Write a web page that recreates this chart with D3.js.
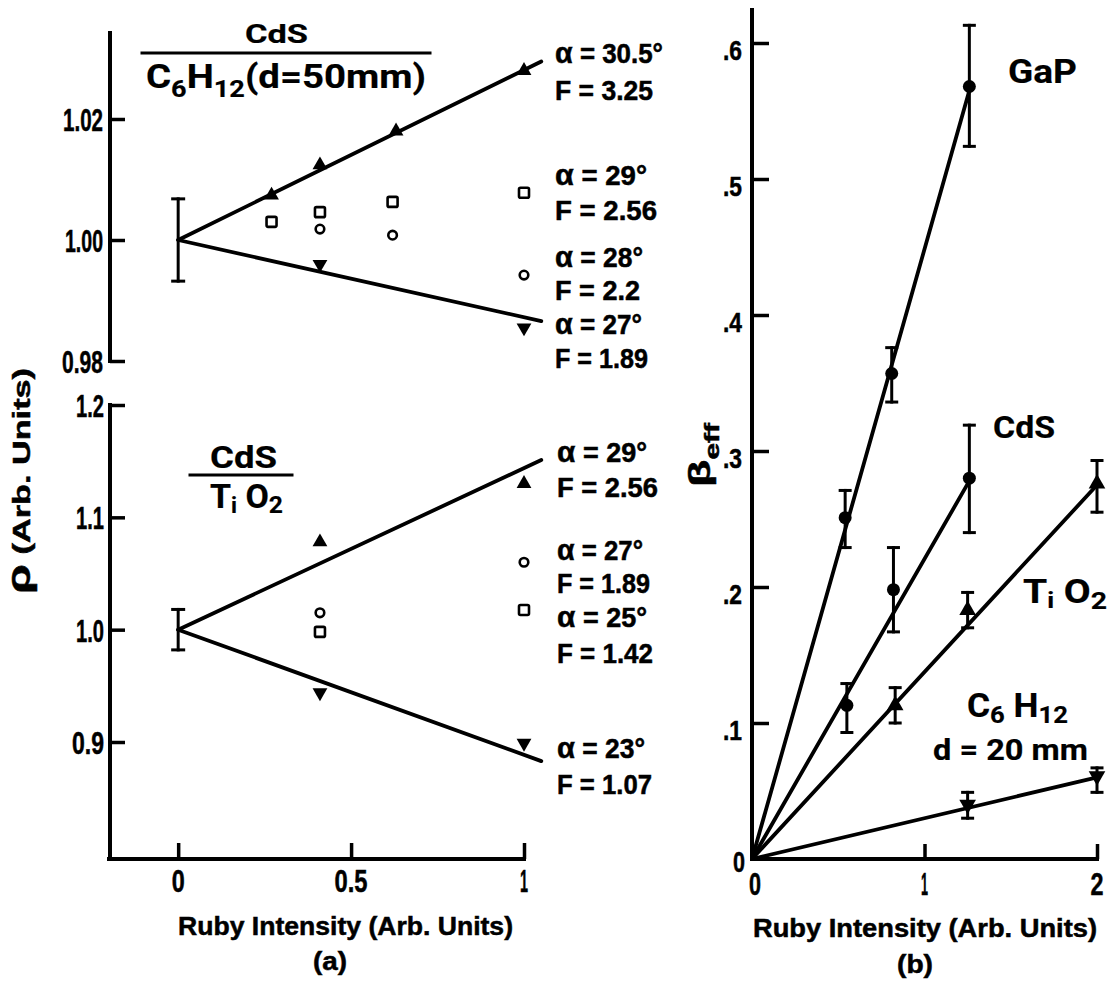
<!DOCTYPE html>
<html><head><meta charset="utf-8">
<script src="https://cdn.jsdelivr.net/npm/d3@7"></script>
<style>
html,body{margin:0;padding:0;background:#fff;}
svg{display:block;}
text{font-family:"Liberation Sans",Arial,sans-serif;font-weight:bold;fill:#000;stroke:#000;stroke-width:0.5;}
text.round{font-family:Roboto,"DejaVu Sans",sans-serif;font-weight:700;stroke-width:0.2;}
</style></head><body>
<svg id="c" width="1111" height="995"></svg>
<script>
// ---------- Panel (a), upper: CdS / C6H12 (d = 50 mm)
const aTopTriX = [0.27, 0.41, 0.63, 1.0];
const aTopTriY = [1.0074, 1.0124, 1.018, 1.028];
const aTopSqX = [0.27, 0.41, 0.62, 1.0];
const aTopSqY = [1.003, 1.0046, 1.0063, 1.0078];
const aTopCircX = [0.41, 0.62, 1.0];
const aTopCircY = [1.0018, 1.0008, 0.9942];
const aTopInvX = [0.41, 1.0];
const aTopInvY = [0.996, 0.9855];
const aTopErrX = [0], aTopErrY = [1.0], aTopErrLo = [0.9932], aTopErrHi = [1.0068];
const aTopFitX = [0, 1.05];
const aTopFitUp = [1.0, 1.0295];
const aTopFitDown = [1.0, 0.9866];
const aTopTicks = [0.98, 1.00, 1.02];
const aTopTickLabels = ["0.98", "1.00", "1.02"];
const aTopNotes = ["α = 30.5°", "F = 3.25", "α = 29°", "F = 2.56", "α = 28°", "F = 2.2", "α = 27°", "F = 1.89"];

// ---------- Panel (a), lower: CdS / TiO2
const aBotTriX = [0.41, 1.0];
const aBotTriY = [1.078, 1.13];
const aBotCircX = [0.41, 1.0];
const aBotCircY = [1.015, 1.06];
const aBotSqX = [0.41, 1.0];
const aBotSqY = [0.998, 1.0175];
const aBotInvX = [0.41, 1.0];
const aBotInvY = [0.944, 0.899];
const aBotErrX = [0], aBotErrY = [1.0], aBotErrLo = [0.982], aBotErrHi = [1.018];
const aBotFitX = [0, 1.05];
const aBotFitUp = [1.0, 1.151];
const aBotFitDown = [1.0, 0.883];
const aBotTicks = [0.9, 1.0, 1.1, 1.2];
const aBotTickLabels = ["0.9", "1.0", "1.1", "1.2"];
const aBotNotes = ["α = 29°", "F = 2.56", "α = 27°", "F = 1.89", "α = 25°", "F = 1.42", "α = 23°", "F = 1.07"];
const aXTicks = [0, 0.5, 1];
const aXTickLabels = ["0", "0.5", "1"];

// ---------- Panel (b): beta_eff vs ruby intensity
const gapX = [0.54, 0.81, 1.26], gapY = [0.251, 0.357, 0.568];
const gapLo = [0.229, 0.336, 0.524], gapHi = [0.271, 0.376, 0.613];
const cdsX = [0.55, 0.82, 1.26], cdsY = [0.113, 0.198, 0.280];
const cdsLo = [0.093, 0.167, 0.240], cdsHi = [0.129, 0.229, 0.319];
const tioX = [0.83, 1.25, 2.0], tioY = [0.113, 0.183, 0.276];
const tioLo = [0.100, 0.170, 0.255], tioHi = [0.126, 0.196, 0.293];
const chxX = [1.25, 2.0], chxY = [0.040, 0.061];
const chxLo = [0.030, 0.049], chxHi = [0.049, 0.067];
const gapFitX = [0, 1.26], gapFitY = [0, 0.565];
const cdsFitX = [0, 1.26], cdsFitY = [0, 0.278];
const tioFitX = [0, 2.0], tioFitY = [0, 0.275];
const chxFitX = [0, 2.0], chxFitY = [0, 0.060];
const bYTicks = [0.1, 0.2, 0.3, 0.4, 0.5, 0.6];
const bYTickLabels = [".1", ".2", ".3", ".4", ".5", ".6"];
const bXTicks = [0, 1, 2];
const bXTickLabels = ["0", "1", "2"];

// ---------- drawing
const svg = d3.select("#c");
const SW = 4;          // axis stroke
const LW = 3.8;        // fit line stroke

const xa = d3.scaleLinear().domain([-0.2, 1]).range([109, 524]);
const yTop = d3.scaleLinear().domain([0.98, 1.02]).range([361, 119]);
const yBot = d3.scaleLinear().domain([0.9, 1.2]).range([742, 405]);
const xb = d3.scaleLinear().domain([0, 2]).range([752, 1097]);
const yb = d3.scaleLinear().domain([0, 0.6]).range([859, 43]);
const aAxisX = 110, aBaseY = 859;

function label(parent, parts, x, y, size, width, opts) {
  opts = opts || {};
  const t = parent.append("text").attr("x", x).attr("y", y).attr("font-size", size);
  if (typeof parts === "string") parts = [{t: parts}];
  parts.forEach(p => {
    const s = t.append("tspan").text(p.t);
    if (p.size) s.attr("font-size", p.size);
    if (p.dy) s.attr("dy", p.dy);
  });
  if (width) t.attr("textLength", width).attr("lengthAdjust", "spacingAndGlyphs");
  if (opts.cls) t.attr("class", opts.cls);
  if (opts.rotate) t.attr("transform", `rotate(-90,${x},${y})`);
  return t;
}
function line(g, x1, y1, x2, y2, w) {
  g.append("line").attr("x1", x1).attr("y1", y1).attr("x2", x2).attr("y2", y2)
    .attr("stroke", "#000").attr("stroke-width", w || SW).attr("stroke-linecap", "square");
}
function fit(g, xs, ys, sx, sy) {
  g.append("path").datum(xs.map((d, i) => [d, ys[i]]))
    .attr("d", d3.line().x(d => sx(d[0])).y(d => sy(d[1])))
    .attr("fill", "none").attr("stroke", "#000").attr("stroke-width", LW).attr("stroke-linecap", "round");
}
function tri(g, xs, ys, sx, sy, size, down) {
  g.selectAll(null).data(xs.map((d, i) => [d, ys[i]])).join("path")
    .attr("d", d3.symbol(d3.symbolTriangle, size))
    .attr("transform", d => `translate(${sx(d[0])},${sy(d[1])})${down ? " rotate(180)" : ""}`)
    .attr("fill", "#000");
}
function openSq(g, xs, ys, sx, sy) {
  g.selectAll(null).data(xs.map((d, i) => [d, ys[i]])).join("rect")
    .attr("x", d => sx(d[0]) - 5).attr("y", d => sy(d[1]) - 5).attr("width", 10).attr("height", 10)
    .attr("rx", 1.5).attr("fill", "none").attr("stroke", "#000").attr("stroke-width", 2.6);
}
function openCirc(g, xs, ys, sx, sy) {
  g.selectAll(null).data(xs.map((d, i) => [d, ys[i]])).join("circle")
    .attr("cx", d => sx(d[0])).attr("cy", d => sy(d[1])).attr("r", 4.3)
    .attr("fill", "none").attr("stroke", "#000").attr("stroke-width", 2.6);
}
function dots(g, xs, ys, sx, sy, r) {
  g.selectAll(null).data(xs.map((d, i) => [d, ys[i]])).join("circle")
    .attr("cx", d => sx(d[0])).attr("cy", d => sy(d[1])).attr("r", r).attr("fill", "#000");
}
function errs(g, xs, lo, hi, sx, sy, cap) {
  xs.forEach((x, i) => {
    const px = sx(x);
    line(g, px, sy(lo[i]), px, sy(hi[i]), 3);
    line(g, px - cap, sy(lo[i]), px + cap, sy(lo[i]), 3);
    line(g, px - cap, sy(hi[i]), px + cap, sy(hi[i]), 3);
  });
}
function tickMarks(g, axis, tx, ty) {
  const a = g.append("g").attr("transform", `translate(${tx},${ty})`).call(axis);
  a.select(".domain").remove();
  a.selectAll(".tick line").attr("stroke", "#000").attr("stroke-width", 3.5);
  a.selectAll(".tick text").remove();
}
function note(g, s, x, y, w) {
  const parts = s.startsWith("α") ? [{t: "α", size: 30}, {t: s.slice(1)}] : [{t: s}];
  label(g, parts, x, y, 27, w);
}

// ===== Panel (a) upper
const gA = svg.append("g");
line(gA, aAxisX, 33, aAxisX, yTop(0.98));
tickMarks(gA, d3.axisLeft(yTop).tickValues(aTopTicks).tickSize(-15).tickFormat(""), aAxisX, 0);
aTopTicks.forEach((v, i) => {
  const w = [41, 38, 40][i];
  label(gA, aTopTickLabels[i], 103 - w, yTop(v) + 12, 31, w);
});
fit(gA, aTopFitX, aTopFitUp, xa, yTop);
fit(gA, aTopFitX, aTopFitDown, xa, yTop);
errs(gA, aTopErrX, aTopErrLo, aTopErrHi, xa, yTop, 5.5);
tri(gA, aTopTriX, aTopTriY, xa, yTop, 95, false);
tri(gA, aTopInvX, aTopInvY, xa, yTop, 95, true);
openSq(gA, aTopSqX, aTopSqY, xa, yTop);
openCirc(gA, aTopCircX, aTopCircY, xa, yTop);
label(gA, "CdS", 245, 43, 25, 63, {cls: "round"});
line(gA, 142, 53, 430, 53, 3);
label(gA, [{t: "C"}, {t: "6", size: 24, dy: 9}, {t: "H", dy: -9}, {t: "12", size: 24, dy: 9}, {t: "(d=50mm)", dy: -9}],
  146, 88, 34, 280, {cls: "round"});
const topBase = [63, 100, 185, 220, 267, 300, 334, 368];
const topW = [108, 98, 92, 102, 88, 85, 87, 93];
aTopNotes.forEach((s, i) => note(gA, s, 555, topBase[i], topW[i]));

// ===== Panel (a) lower
line(gA, aAxisX, yBot(1.2), aAxisX, aBaseY);
line(gA, xa(-0.2), aBaseY, xa(1), aBaseY);
tickMarks(gA, d3.axisLeft(yBot).tickValues(aBotTicks).tickSize(-15).tickFormat(""), aAxisX, 0);
tickMarks(gA, d3.axisBottom(xa).tickValues(aXTicks).tickSize(-16).tickFormat(""), 0, aBaseY);
aBotTicks.forEach((v, i) => {
  const w = [32, 28, 28, 28][i];
  label(gA, aBotTickLabels[i], 104 - w, yBot(v) + 12, 31, w);
});
aXTicks.forEach((v, i) => {
  const w = [13, 33, 8][i];
  label(gA, aXTickLabels[i], xa(v) - w / 2, 892, 31, w);
});
fit(gA, aBotFitX, aBotFitUp, xa, yBot);
fit(gA, aBotFitX, aBotFitDown, xa, yBot);
errs(gA, aBotErrX, aBotErrLo, aBotErrHi, xa, yBot, 5.5);
tri(gA, aBotTriX, aBotTriY, xa, yBot, 95, false);
tri(gA, aBotInvX, aBotInvY, xa, yBot, 95, true);
openSq(gA, aBotSqX, aBotSqY, xa, yBot);
openCirc(gA, aBotCircX, aBotCircY, xa, yBot);
label(gA, "CdS", 210, 468, 32, 67, {cls: "round"});
line(gA, 190, 475, 292, 475, 3);
label(gA, [{t: "T"}, {t: "i", size: 22, dy: 5}, {t: " O", dy: -5}, {t: "2", size: 24, dy: 5}], 210, 508, 33, 73, {cls: "round"});
const botBase = [462, 497, 560, 593, 627, 663, 758, 794];
const botW = [90, 101, 86, 93, 90, 96, 88, 95];
aBotNotes.forEach((s, i) => note(gA, s, 557, botBase[i], botW[i]));
label(gA, [{t: "ρ", size: 34}, {t: "  (Arb. Units)"}], 30, 594, 24, 226, {rotate: true});
label(gA, "Ruby  Intensity (Arb. Units)", 178, 935, 25, 335);
label(gA, "(a)", 313, 970, 25, 34);

// ===== Panel (b)
const gB = svg.append("g");
line(gB, xb(0), 10, xb(0), yb(0));
line(gB, xb(0), yb(0), xb(2), yb(0));
tickMarks(gB, d3.axisLeft(yb).tickValues(bYTicks).tickSize(-17).tickFormat(""), xb(0), 0);
tickMarks(gB, d3.axisBottom(xb).tickValues(bXTicks.slice(1)).tickSize(-15).tickFormat(""), 0, yb(0));
bYTicks.forEach((v, i) => label(gB, bYTickLabels[i], 723, yb(v) + 17, 27, 19));
label(gB, "0", 733, 872, 30, 12);
bXTicks.forEach((v, i) => {
  const w = [12, 7, 13][i];
  label(gB, bXTickLabels[i], xb(v) - w / 2 + (i === 0 ? 3 : 0), 895, 31, w);
});
fit(gB, gapFitX, gapFitY, xb, yb);
fit(gB, cdsFitX, cdsFitY, xb, yb);
fit(gB, tioFitX, tioFitY, xb, yb);
fit(gB, chxFitX, chxFitY, xb, yb);
errs(gB, gapX, gapLo, gapHi, xb, yb, 5);
errs(gB, cdsX, cdsLo, cdsHi, xb, yb, 5);
errs(gB, tioX, tioLo, tioHi, xb, yb, 5);
errs(gB, chxX, chxLo, chxHi, xb, yb, 5);
dots(gB, gapX, gapY, xb, yb, 6.5);
dots(gB, cdsX, cdsY, xb, yb, 6.5);
tri(gB, tioX, tioY, xb, yb, 120, false);
tri(gB, chxX, chxY, xb, yb, 120, true);
label(gB, "GaP", 1008, 83, 34, 69, {cls: "round"});
label(gB, "CdS", 993, 438, 32, 62, {cls: "round"});
label(gB, [{t: "T"}, {t: "i", size: 22, dy: 5}, {t: " O", dy: -5}, {t: "2", size: 24, dy: 6}], 1023, 603, 33, 84, {cls: "round"});
label(gB, [{t: "C"}, {t: "6", size: 24, dy: 6}, {t: " H", dy: -6}, {t: "12", size: 24, dy: 6}], 967, 717, 33, 101, {cls: "round"});
label(gB, "d = 20 mm", 933, 760, 30, 155, {cls: "round"});
label(gB, [{t: "β", size: 30}, {t: "eff", size: 20, dy: 9}], 710, 487, 30, 64, {rotate: true});
label(gB, "Ruby  Intensity (Arb. Units)", 753, 937, 25, 344);
label(gB, "(b)", 897, 973, 25, 36);
</script>
</body></html>
